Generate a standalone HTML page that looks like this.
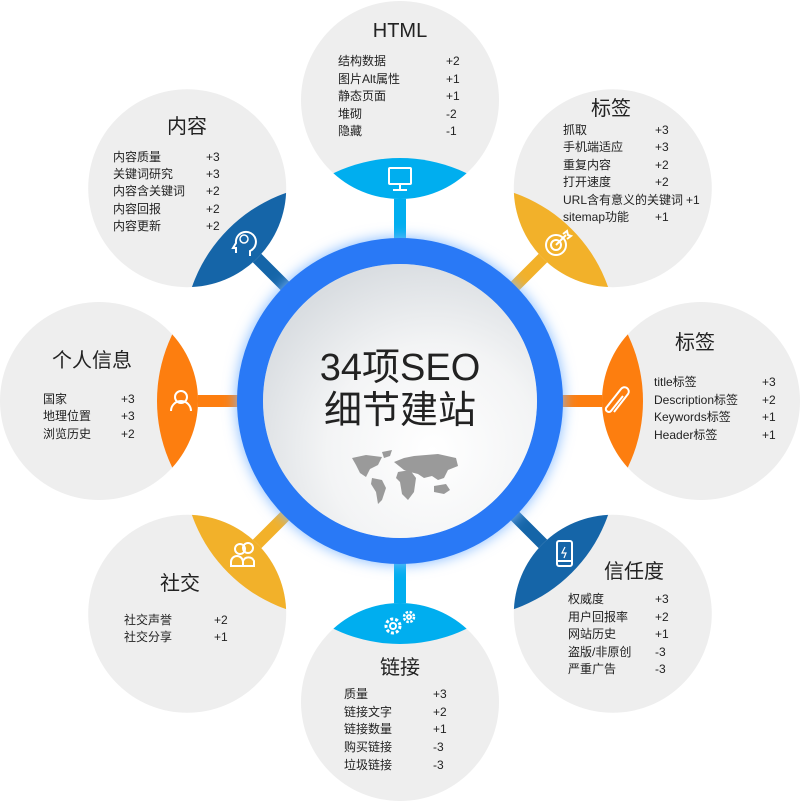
<!DOCTYPE html>
<html><head><meta charset="utf-8"><style>
html,body{margin:0;padding:0;background:#fff;}
svg{display:block;}
text{font-family:"Liberation Sans","Noto Sans CJK SC",sans-serif;fill:#222;}
.t{font-size:20px;text-anchor:middle;}
.i{font-size:12px;}
</style></head><body>
<svg width="800" height="802" viewBox="0 0 800 802" xmlns="http://www.w3.org/2000/svg">
<defs>
<filter id="glow" x="-30%" y="-30%" width="160%" height="160%"><feGaussianBlur stdDeviation="7"/></filter>
<radialGradient id="inner" cx="62%" cy="68%" r="70%">
<stop offset="0" stop-color="#ffffff"/><stop offset="0.55" stop-color="#f3f4f5"/><stop offset="1" stop-color="#d9dde1"/>
</radialGradient>
<clipPath id="c0"><circle cx="400" cy="100" r="99"/></clipPath>
<clipPath id="c1"><circle cx="612.8" cy="188.2" r="99"/></clipPath>
<clipPath id="c2"><circle cx="701" cy="401" r="99"/></clipPath>
<clipPath id="c3"><circle cx="612.8" cy="613.8" r="99"/></clipPath>
<clipPath id="c4"><circle cx="400" cy="702" r="99"/></clipPath>
<clipPath id="c5"><circle cx="187.2" cy="613.8" r="99"/></clipPath>
<clipPath id="c6"><circle cx="99" cy="401" r="99"/></clipPath>
<clipPath id="c7"><circle cx="187.2" cy="188.2" r="99"/></clipPath>
</defs>

<!-- connectors -->
<g stroke-width="12">
<line x1="400" y1="100" x2="400" y2="401" stroke="#00aeef"/>
<line x1="612.8" y1="188.2" x2="400" y2="401" stroke="#f2b12a"/>
<line x1="701" y1="401" x2="400" y2="401" stroke="#fd7e0f"/>
<line x1="612.8" y1="613.8" x2="400" y2="401" stroke="#1565a8"/>
<line x1="400" y1="702" x2="400" y2="401" stroke="#00aeef"/>
<line x1="187.2" y1="613.8" x2="400" y2="401" stroke="#f2b12a"/>
<line x1="99" y1="401" x2="400" y2="401" stroke="#fd7e0f"/>
<line x1="187.2" y1="188.2" x2="400" y2="401" stroke="#1565a8"/>
</g>

<!-- satellites -->
<g fill="#eeeeee">
<circle cx="400" cy="100" r="99"/><circle cx="612.8" cy="188.2" r="99"/>
<circle cx="701" cy="401" r="99"/><circle cx="612.8" cy="613.8" r="99"/>
<circle cx="400" cy="702" r="99"/><circle cx="187.2" cy="613.8" r="99"/>
<circle cx="99" cy="401" r="99"/><circle cx="187.2" cy="188.2" r="99"/>
</g>
<circle cx="400" cy="311" r="153" fill="#00aeef" clip-path="url(#c0)"/>
<circle cx="463.6" cy="337.4" r="153" fill="#f2b12a" clip-path="url(#c1)"/>
<circle cx="490" cy="401" r="153" fill="#fd7e0f" clip-path="url(#c2)"/>
<circle cx="463.6" cy="464.6" r="153" fill="#1565a8" clip-path="url(#c3)"/>
<circle cx="400" cy="491" r="153" fill="#00aeef" clip-path="url(#c4)"/>
<circle cx="336.4" cy="464.6" r="153" fill="#f2b12a" clip-path="url(#c5)"/>
<circle cx="310" cy="401" r="153" fill="#fd7e0f" clip-path="url(#c6)"/>
<circle cx="336.4" cy="337.4" r="153" fill="#1565a8" clip-path="url(#c7)"/>

<!-- icons -->
<g fill="none" stroke="#fff" stroke-width="2">
<!-- monitor -->
<rect x="389" y="168" width="22" height="16" rx="1"/><line x1="400" y1="184" x2="400" y2="189"/><line x1="393" y1="190" x2="407" y2="190"/>
<!-- target -->
<circle cx="556" cy="245" r="10"/><circle cx="556" cy="245" r="5"/><line x1="556" y1="245" x2="566" y2="235"/><path d="M563 234 l4 -3 l1 4 l3 1 l-4 3"/>
<!-- paperclip -->
<path d="M612 412 l14 -18 a4 4 0 0 0 -7 -5 l-15 19 a3 3 0 0 0 5 3 l12 -15" transform="translate(2,0)"/>
<!-- phone -->
<rect x="557" y="541" width="15" height="25" rx="2"/><line x1="557" y1="561" x2="572" y2="561"/><path d="M565 547 l-3 6 h4 l-2 5" stroke-width="1.2"/>
<!-- gears -->
<circle cx="393" cy="626" r="7" stroke-dasharray="3 2" stroke-width="3"/><circle cx="393" cy="626" r="3"/>
<circle cx="409" cy="617" r="5" stroke-dasharray="2.5 1.5" stroke-width="2.5"/><circle cx="409" cy="617" r="2"/>
<!-- people -->
<circle cx="240" cy="549" r="5"/><path d="M231 566 v-4 a6 6 0 0 1 12 0 v4 z"/><circle cx="248" cy="548" r="5"/><path d="M243 566 v-5 a6 6 0 0 1 11 0 v5 z"/>
<!-- person -->
<circle cx="181" cy="397" r="6"/><path d="M171 411 a10 10 0 0 1 20 0"/>
<!-- head -->
<path d="M236 253 v-5 h-3 l3 -5 a10 10 0 1 1 14 8 v5"/><circle cx="244" cy="239" r="4" stroke-width="1.5"/>
</g>

<!-- center -->
<circle cx="400" cy="401" r="163" fill="#7fb8ff" filter="url(#glow)"/>
<circle cx="400" cy="401" r="150" fill="none" stroke="#2979f6" stroke-width="26"/>
<circle cx="400" cy="401" r="137" fill="url(#inner)"/>
<text x="400" y="380" style="font-size:38px;text-anchor:middle;fill:#222">34项SEO</text>
<text x="400" y="423" style="font-size:38px;text-anchor:middle;fill:#222">细节建站</text>
<g fill="#9a9a9a">
<path d="M352 458 l14 -3 l16 2 l-4 8 l-8 4 l-4 8 l-6 -4 l-4 -8 z"/>
<path d="M382 452 l10 -2 l-2 6 l-6 2 z"/>
<path d="M372 478 l10 2 l4 8 l-4 12 l-4 4 l-2 -12 l-5 -8 z"/>
<path d="M394 462 l10 -4 l10 -2 l24 -2 l18 4 l2 8 l-10 4 l-4 8 l-6 2 l-6 -4 l-8 2 l-6 -4 l-8 -2 l-6 -2 z"/>
<path d="M398 472 l12 -2 l6 8 l-2 14 l-6 8 l-6 -6 l-2 -12 l-4 -4 z"/>
<path d="M434 486 l12 -2 l4 6 l-6 4 l-10 -2 z"/>
</g>

<!-- texts -->
<text class="t" x="400" y="37">HTML</text>
<g class="i">
<text x="338" y="65">结构数据</text><text x="446" y="65">+2</text>
<text x="338" y="83">图片Alt属性</text><text x="446" y="83">+1</text>
<text x="338" y="100">静态页面</text><text x="446" y="100">+1</text>
<text x="338" y="118">堆砌</text><text x="446" y="118">-2</text>
<text x="338" y="135">隐藏</text><text x="446" y="135">-1</text>
</g>

<text class="t" x="187" y="133">内容</text>
<g class="i">
<text x="113" y="161">内容质量</text><text x="206" y="161">+3</text>
<text x="113" y="178">关键词研究</text><text x="206" y="178">+3</text>
<text x="113" y="195">内容含关键词</text><text x="206" y="195">+2</text>
<text x="113" y="213">内容回报</text><text x="206" y="213">+2</text>
<text x="113" y="230">内容更新</text><text x="206" y="230">+2</text>
</g>

<text class="t" x="611" y="115">标签</text>
<g class="i">
<text x="563" y="134">抓取</text><text x="655" y="134">+3</text>
<text x="563" y="151">手机端适应</text><text x="655" y="151">+3</text>
<text x="563" y="169">重复内容</text><text x="655" y="169">+2</text>
<text x="563" y="186">打开速度</text><text x="655" y="186">+2</text>
<text x="563" y="204">URL含有意义的关键词</text><text x="686" y="204">+1</text>
<text x="563" y="221">sitemap功能</text><text x="655" y="221">+1</text>
</g>

<text class="t" x="695" y="349">标签</text>
<g class="i">
<text x="654" y="386">title标签</text><text x="762" y="386">+3</text>
<text x="654" y="404">Description标签</text><text x="762" y="404">+2</text>
<text x="654" y="421">Keywords标签</text><text x="762" y="421">+1</text>
<text x="654" y="439">Header标签</text><text x="762" y="439">+1</text>
</g>

<text class="t" x="634" y="578">信任度</text>
<g class="i">
<text x="568" y="603">权威度</text><text x="655" y="603">+3</text>
<text x="568" y="621">用户回报率</text><text x="655" y="621">+2</text>
<text x="568" y="638">网站历史</text><text x="655" y="638">+1</text>
<text x="568" y="656">盗版/非原创</text><text x="655" y="656">-3</text>
<text x="568" y="673">严重广告</text><text x="655" y="673">-3</text>
</g>

<text class="t" x="400" y="674">链接</text>
<g class="i">
<text x="344" y="698">质量</text><text x="433" y="698">+3</text>
<text x="344" y="716">链接文字</text><text x="433" y="716">+2</text>
<text x="344" y="733">链接数量</text><text x="433" y="733">+1</text>
<text x="344" y="751">购买链接</text><text x="433" y="751">-3</text>
<text x="344" y="769">垃圾链接</text><text x="433" y="769">-3</text>
</g>

<text class="t" x="180" y="590">社交</text>
<g class="i">
<text x="124" y="624">社交声誉</text><text x="214" y="624">+2</text>
<text x="124" y="641">社交分享</text><text x="214" y="641">+1</text>
</g>

<text class="t" x="92" y="367">个人信息</text>
<g class="i">
<text x="43" y="403">国家</text><text x="121" y="403">+3</text>
<text x="43" y="420">地理位置</text><text x="121" y="420">+3</text>
<text x="43" y="438">浏览历史</text><text x="121" y="438">+2</text>
</g>
</svg>
</body></html>
